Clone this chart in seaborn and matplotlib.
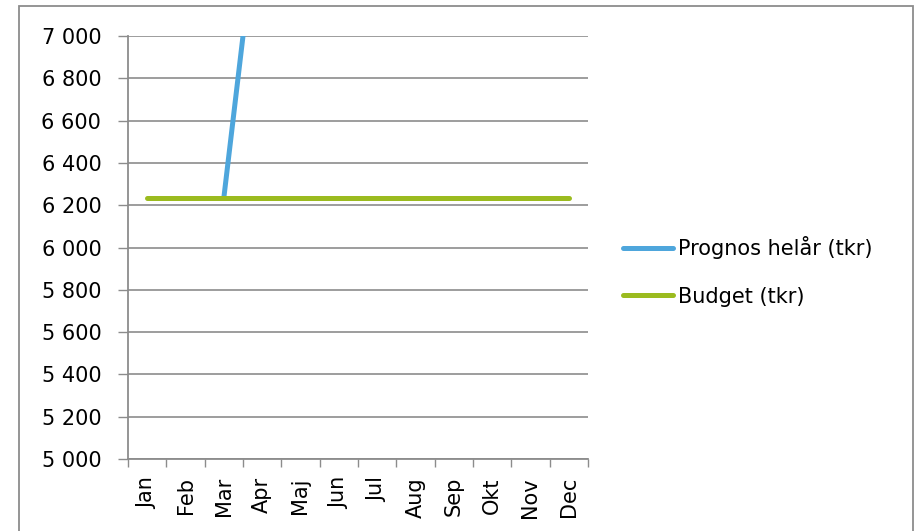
import numpy as np
import pandas as pd
import seaborn as sns
import matplotlib.pyplot as plt
from matplotlib.ticker import FuncFormatter, FixedLocator
from matplotlib.patches import Rectangle

months = ["Jan", "Feb", "Mar", "Apr", "Maj", "Jun", "Jul", "Aug", "Sep", "Okt", "Nov", "Dec"]
prognos = [np.nan, np.nan, 6235, 7765, np.nan, np.nan, np.nan, np.nan, np.nan, np.nan, np.nan, np.nan]
budget = [6235] * 12
y_ticks = list(range(5000, 7001, 200))

sns.set_style("white")
plt.rcParams["font.family"] = ["DejaVu Sans"]
plt.rcParams["text.color"] = "black"
plt.rcParams["xtick.color"] = "black"
plt.rcParams["ytick.color"] = "black"

grey = "#8c8c8c"
blue = "#4ea6dc"
green = "#9bbb1f"
fs = 15

fig = plt.figure(figsize=(9.19, 5.31), dpi=100)
fig.patches.append(Rectangle((19 / 919, -0.1), (913 - 19) / 919, 1.1 - 6 / 531,
                             transform=fig.transFigure, fill=False,
                             edgecolor=grey, linewidth=1.3))
ax = fig.add_axes([128 / 919, 72 / 531, 460 / 919, 423 / 531])

idx = np.arange(len(months))
df = pd.DataFrame({"idx": idx, "Prognos helår (tkr)": prognos, "Budget (tkr)": budget})
long = df.melt(id_vars="idx", var_name="serie", value_name="tkr").dropna()

sns.lineplot(data=long, x="idx", y="tkr", hue="serie",
             palette={"Prognos helår (tkr)": blue, "Budget (tkr)": green},
             linewidth=3.6, solid_capstyle="round", ax=ax, legend=True)

ax.set_xlim(-0.5, len(months) - 0.5)
ax.set_ylim(5000, 7000)
ax.set_xticks(idx)
ax.set_xticklabels(months, rotation=90, fontsize=fs)
ax.xaxis.set_minor_locator(FixedLocator(np.arange(-0.5, len(months), 1.0)))
ax.tick_params(axis="x", which="major", length=0, pad=13, bottom=False)
ax.tick_params(axis="x", which="minor", length=5.5, width=1, color=grey, direction="out", bottom=True)
ax.set_yticks(y_ticks)
ax.yaxis.set_major_formatter(FuncFormatter(lambda v, p: f"{int(v):,}".replace(",", " ")))
ax.tick_params(axis="y", length=7.2, width=1, color=grey, labelcolor="black", pad=12,
               labelsize=fs, direction="out", left=True)
ax.grid(axis="y", color=grey, linewidth=1.2)
ax.set_axisbelow(True)
ax.set_xlabel("")
ax.set_ylabel("")
for s in ["top", "right"]:
    ax.spines[s].set_visible(False)
for s in ["left", "bottom"]:
    ax.spines[s].set_color(grey)
    ax.spines[s].set_linewidth(1.3)

handles, labels = ax.get_legend_handles_labels()
ax.legend(handles, labels, loc="center left", bbox_to_anchor=(613 / 919, (531 - 271.5) / 531),
          bbox_transform=fig.transFigure, frameon=False, fontsize=fs,
          handlelength=2.4, handletextpad=0.2, labelspacing=1.3, borderpad=0)

fig.savefig("out.png", dpi=100)
